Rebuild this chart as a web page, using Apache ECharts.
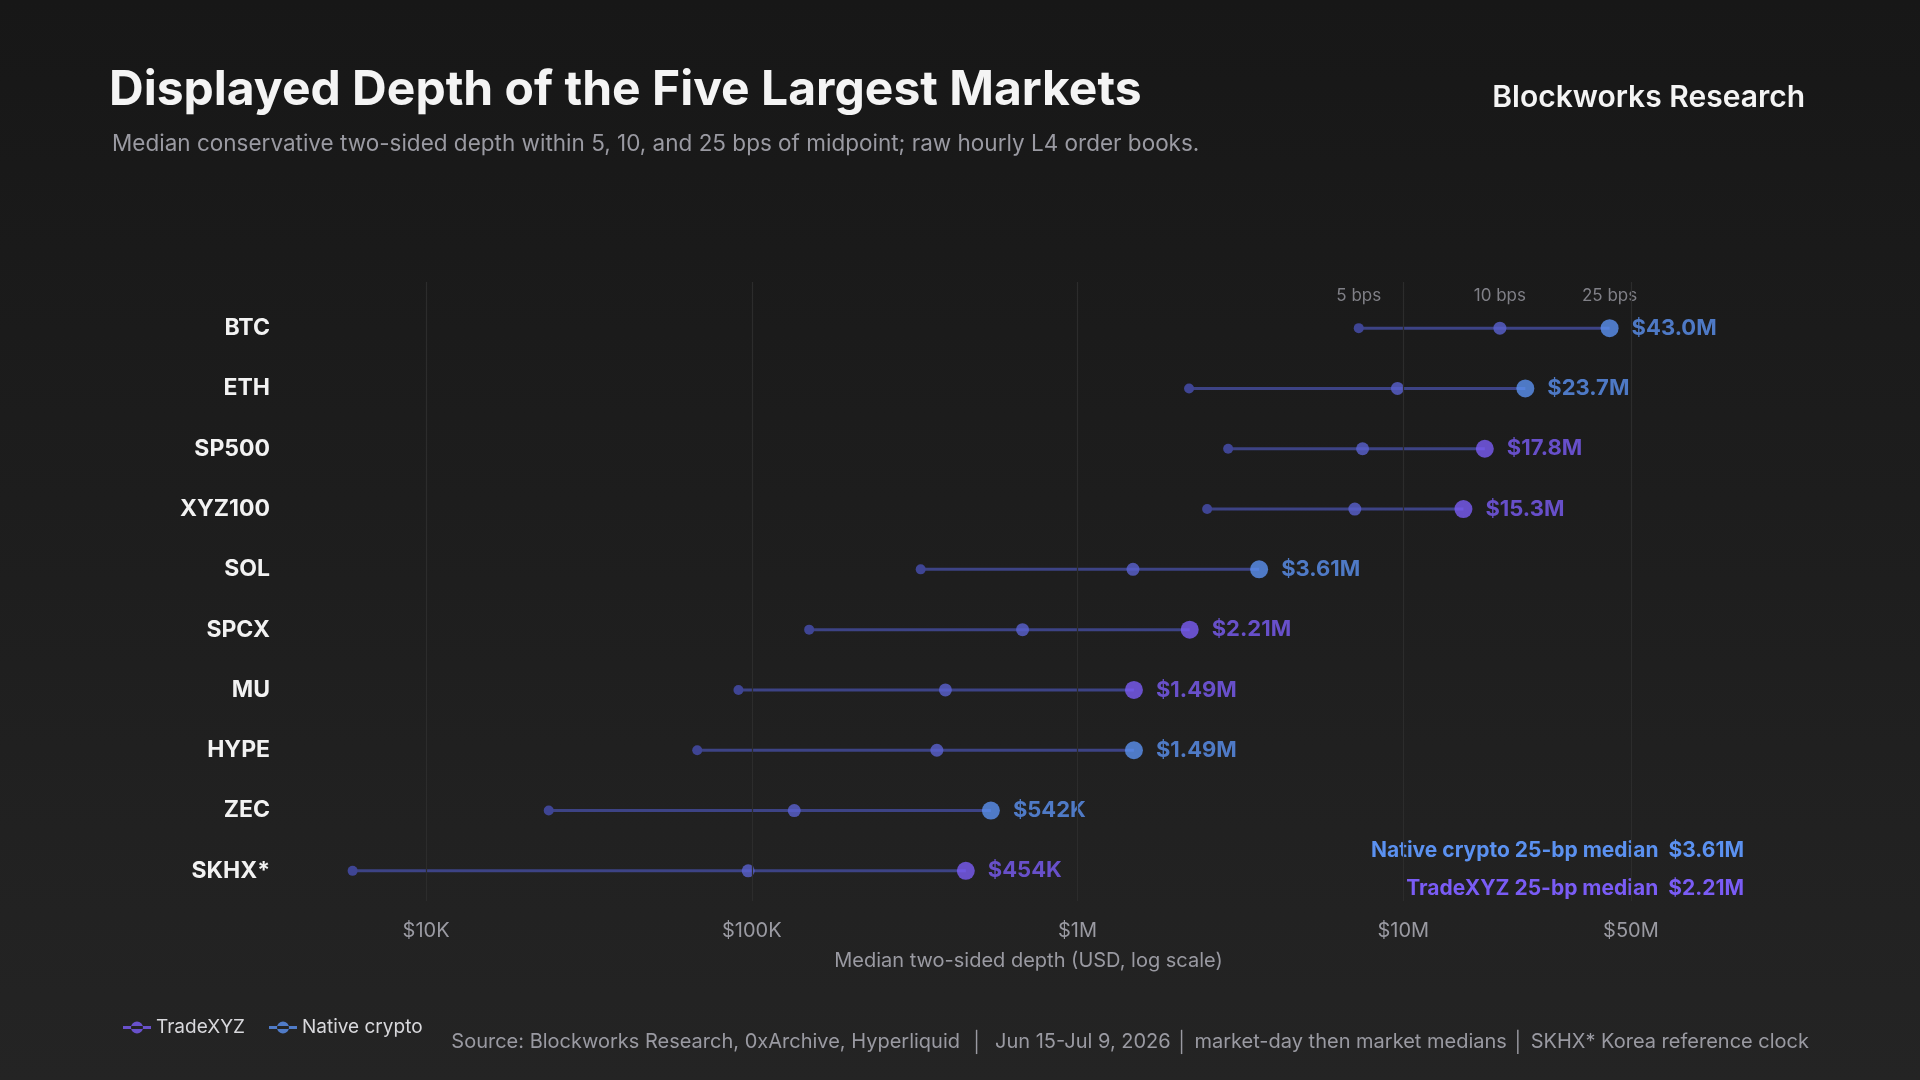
<!DOCTYPE html>
<html><head><meta charset="utf-8">
<script src="https://cdn.jsdelivr.net/npm/echarts@6/dist/echarts.min.js"></script>
<style>html,body{margin:0;padding:0;background:#1b1b1b}#main{width:1920px;height:1080px}</style>
</head><body><div id="main"></div>
<script>
var chart = echarts.init(document.getElementById('main'));

var categories = ['BTC','ETH','SP500','XYZ100','SOL','SPCX','MU','HYPE','ZEC','SKHX*'];
var venue = ['N','N','T','T','N','T','T','N','N','T'];
var depth5  = [7.3e6, 2.2e6, 2.9e6, 2.5e6, 330e3, 150e3, 91e3, 68e3, 23.8e3, 5.95e3];
var depth10 = [19.8e6, 9.6e6, 7.5e6, 7.1e6, 1.48e6, 678e3, 393e3, 370e3, 135e3, 97.5e3];
var depth25 = [43.0e6, 23.7e6, 17.8e6, 15.3e6, 3.61e6, 2.21e6, 1.49e6, 1.49e6, 542e3, 454e3];
var labels25 = ['$43.0M','$23.7M','$17.8M','$15.3M','$3.61M','$2.21M','$1.49M','$1.49M','$542K','$454K'];
var tickValues = [1e4, 1e5, 1e6, 1e7, 5e7];
var tickLabels = ['$10K','$100K','$1M','$10M','$50M'];
var bpsHeaders = ['5 bps','10 bps','25 bps'];
var medianNative = '$3.61M';
var medianTrade = '$2.21M';

var PURPLE = '#7a5cf5';
var BLUE = '#5b91f0';
var FONT = 'Inter, "Noto Sans", sans-serif';

function endData(v) {
  return categories.map(function (c, i) {
    return venue[i] === v ? { value: [depth25[i], c], label: { formatter: labels25[i] } } : null;
  }).filter(Boolean);
}

var option = {
  backgroundColor: new echarts.graphic.LinearGradient(0, 0, 0, 1, [
    { offset: 0, color: '#171717' }, { offset: 1, color: '#242424' }
  ]),
  textStyle: { fontFamily: FONT },
  grid: { left: 328, right: 191, top: 298, bottom: 179 },
  xAxis: {
    type: 'log', min: 5000, max: 1e8,
    axisLine: { show: false }, axisTick: { show: false }, splitLine: { show: false },
    axisLabel: {
      customValues: tickValues, color: '#9a9aa2', fontSize: 20, margin: 20,
      formatter: function (v) {
        var i = tickValues.findIndex(function (t) { return Math.abs(t - v) / t < 1e-6; });
        return i >= 0 ? tickLabels[i] : '';
      }
    },
    name: 'Median two-sided depth (USD, log scale)', nameLocation: 'middle', nameGap: 50,
    nameTextStyle: { color: '#9a9aa2', fontSize: 20 }
  },
  yAxis: {
    type: 'category', data: categories, inverse: true,
    axisLine: { show: false }, axisTick: { show: false },
    axisLabel: { color: '#f2f2f2', fontSize: 23, fontWeight: 'bold', margin: 58 }
  },
  legend: {
    left: 118, bottom: 38, itemGap: 24, itemWidth: 28, itemHeight: 14,
    textStyle: { color: '#d8d8dc', fontSize: 19 },
    data: [
      { name: 'TradeXYZ', icon: 'path://M0,6h28v3H0z M8,7.5a6,6 0 1,0 12,0a6,6 0 1,0 -12,0z' },
      { name: 'Native crypto', icon: 'path://M0,6h28v3H0z M8,7.5a6,6 0 1,0 12,0a6,6 0 1,0 -12,0z' }
    ]
  },
  title: [
    { text: 'Displayed Depth of the Five Largest Markets', left: 104, top: 62,
      textStyle: { color: '#f4f4f4', fontSize: 48, fontWeight: 'bold', fontFamily: FONT } },
    { text: 'Median conservative two-sided depth within 5, 10, and 25 bps of midpoint; raw hourly L4 order books.',
      left: 107, top: 128, textStyle: { color: '#9a9aa2', fontSize: 22.5, fontWeight: 'normal', fontFamily: FONT } },
    { text: 'Blockworks Research', right: 110, top: 78,
      textStyle: { color: '#f4f4f4', fontSize: 30, fontWeight: 600, fontFamily: FONT } }
  ],
  graphic: [
    { type: 'text', right: 176, top: 840, style: { text: 'Native crypto 25-bp median  ' + medianNative,
      fill: BLUE, font: 'bold 21px ' + FONT } },
    { type: 'text', right: 176, top: 878, style: { text: 'TradeXYZ 25-bp median  ' + medianTrade,
      fill: PURPLE, font: 'bold 21px ' + FONT } },
    { type: 'text', right: 111, top: 1032, style: {
      text: 'Source: Blockworks Research, 0xArchive, Hyperliquid  │  Jun 15-Jul 9, 2026 │ market-day then market medians │ SKHX* Korea reference clock',
      fill: '#9a9aa2', font: '20px ' + FONT } }
  ],
  series: [
    {
      type: 'custom', silent: true, z: 1,
      data: categories.map(function (c, i) { return [depth5[i], depth25[i], c]; }),
      renderItem: function (params, api) {
        var a = api.coord([api.value(0), api.value(2)]);
        var b = api.coord([api.value(1), api.value(2)]);
        return { type: 'line', shape: { x1: a[0], y1: a[1], x2: b[0], y2: b[1] },
          style: { stroke: '#3d4385', lineWidth: 3 } };
      },
      markLine: {
        silent: true, symbol: 'none', label: { show: false },
        lineStyle: { color: '#2c2c2c', type: 'solid', width: 1.2 },
        data: tickValues.map(function (v) { return [{ coord: [v, 0], y: 282 }, { coord: [v, 0], y: 901 }]; })
      }
    },
    {
      type: 'scatter', symbolSize: 10, z: 2, silent: true,
      itemStyle: { color: '#3f4594', opacity: 1 },
      data: categories.map(function (c, i) { return [depth5[i], c]; })
    },
    {
      type: 'scatter', symbolSize: 13, z: 3, silent: true,
      itemStyle: { color: '#5a62cf' },
      data: categories.map(function (c, i) { return [depth10[i], c]; })
    },
    {
      type: 'scatter', symbolSize: 0, silent: true,
      label: { show: true, position: 'top', distance: 24, color: '#9a9aa2', fontSize: 17,
        formatter: function (p) { return bpsHeaders[p.dataIndex]; } },
      data: [[depth5[0], categories[0]], [depth10[0], categories[0]], [depth25[0], categories[0]]]
    },
    {
      name: 'TradeXYZ', type: 'scatter', symbolSize: 18, z: 4, itemStyle: { color: PURPLE },
      label: { show: true, position: 'right', distance: 13, color: PURPLE, fontSize: 22, fontWeight: 'bold' },
      data: endData('T')
    },
    {
      name: 'Native crypto', type: 'scatter', symbolSize: 18, z: 4, itemStyle: { color: BLUE },
      label: { show: true, position: 'right', distance: 13, color: BLUE, fontSize: 22, fontWeight: 'bold' },
      data: endData('N')
    }
  ]
};
chart.setOption(option);
</script>
</body></html>
